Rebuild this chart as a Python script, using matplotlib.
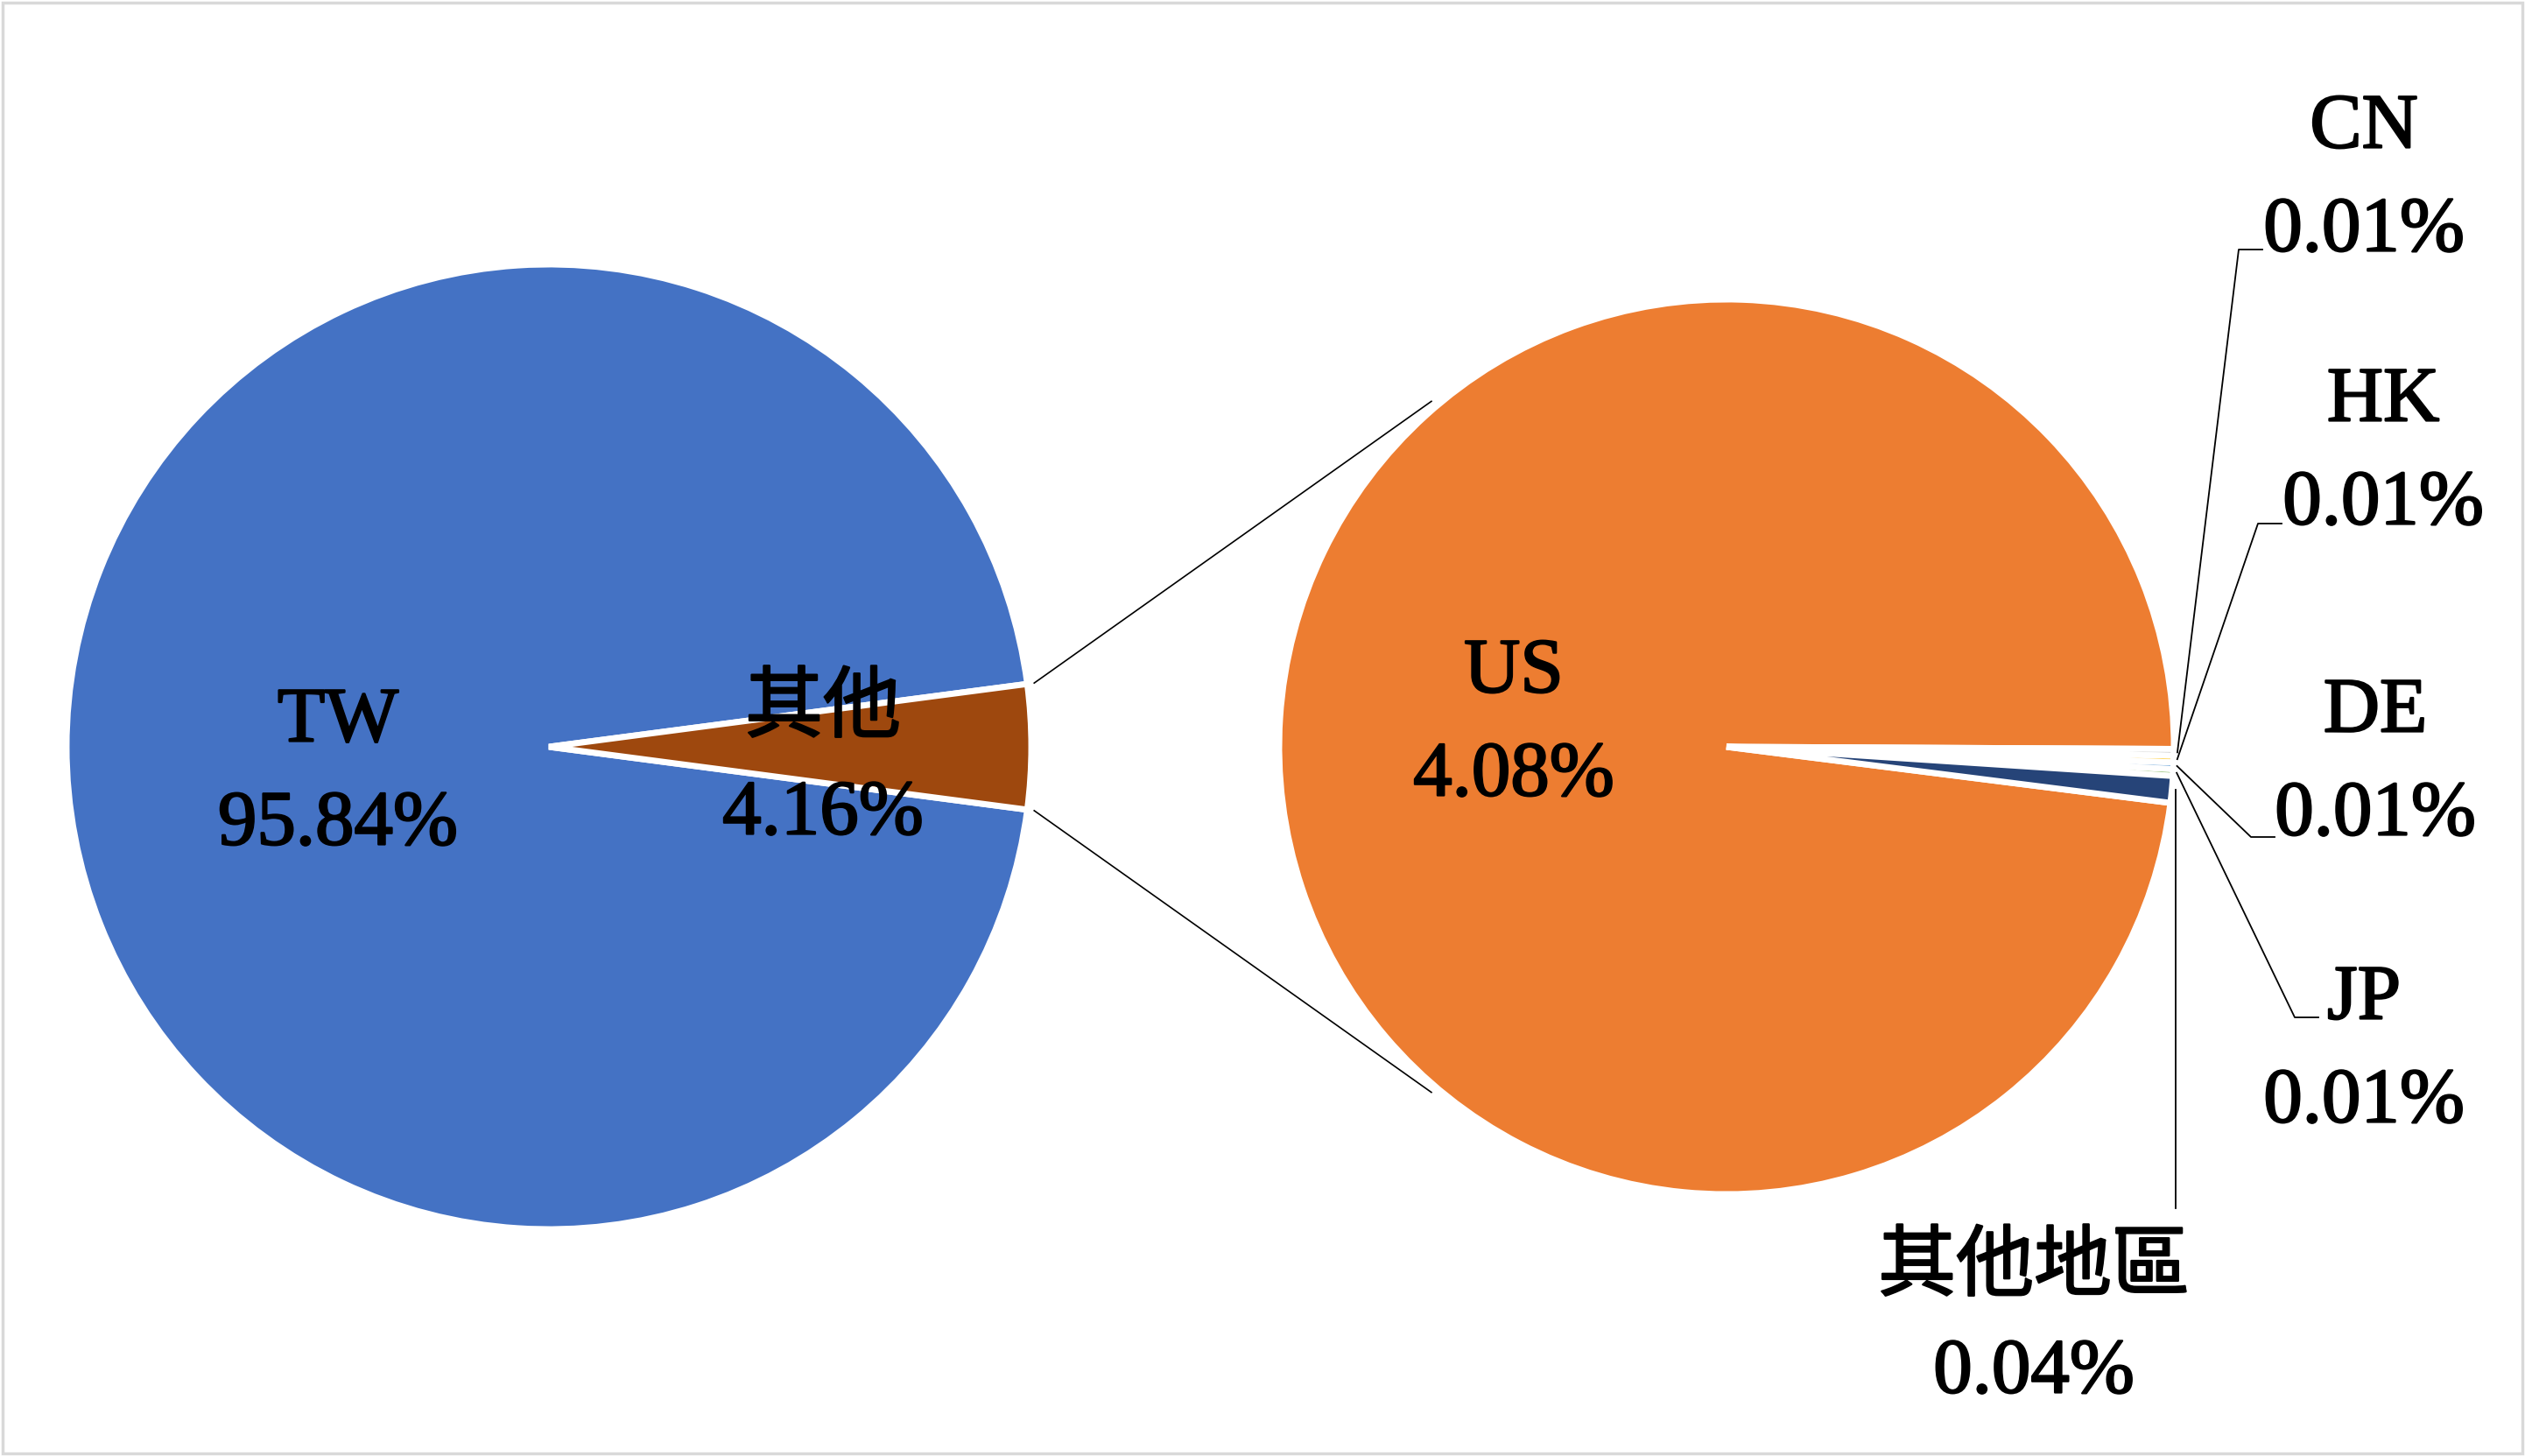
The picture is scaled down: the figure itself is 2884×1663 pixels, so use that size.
import numpy as np
import matplotlib.pyplot as plt
import matplotlib.patheffects as pe
from matplotlib.patches import Rectangle

# Data =======================
main_labels = ['TW', '其他']
main_values = [95.84, 4.16]
main_pct = ['95.84%', '4.16%']

sub_labels = ['US', 'CN', 'HK', 'DE', 'JP', '其他地區']
sub_values = [4.08, 0.01, 0.01, 0.01, 0.01, 0.04]
sub_pct = ['4.08%', '0.01%', '0.01%', '0.01%', '0.01%', '0.04%']

main_colors = ['#4472C4', '#9E480E']
sub_colors = ['#ED7D31', '#A5A5A5', '#FFC000', '#5B9BD5', '#70AD47', '#264478']

# Layout (pixels, y measured from top) =======================
W, H = 2884, 1663
left_c, left_r = (627, 853), 551
right_c, right_r = (1972, 853), 511
FAM = ['Liberation Serif', 'Noto Sans CJK TC']
FS = 64

fig = plt.figure(figsize=(W / 100, H / 100), dpi=100)
ax = fig.add_axes([0, 0, 1, 1])


def P(x, y):
    # pixel (from top) -> data coords
    return x, H - y


wp = dict(edgecolor='white', linewidth=5)

# left pie, "other" slice centered on 0 deg
half = 360 * main_values[1] / sum(main_values) / 2
lw, _ = ax.pie(main_values, colors=main_colors, startangle=half,
               center=P(*left_c), radius=left_r, wedgeprops=wp, frame=True)

# right pie, clockwise
rw, _ = ax.pie(sub_values, colors=sub_colors, startangle=-7.2, counterclock=False,
               center=P(*right_c), radius=right_r, wedgeprops=wp, frame=True)
ax.set_xlim(0, W)
ax.set_ylim(0, H)
ax.set_aspect('equal')
ax.axis('off')


def on_circle(c, r, ang):
    cx, cy = P(*c)
    a = np.deg2rad(ang)
    return cx + r * np.cos(a), cy + r * np.sin(a)


# connector lines between the two pies
for sgn in (1, -1):
    x0, y0 = on_circle(left_c, left_r + 8, sgn * half)
    x1, y1 = on_circle(right_c, right_r + 8, sgn * 130.5)
    ax.plot([x0, x1], [y0, y1], color='black', lw=1.2)

# labels
label_pos = {
    'TW': (386, 884), '其他': (940, 872), 'US': (1729, 828),
    'CN': (2700, 206), 'HK': (2722, 518), 'DE': (2713, 873),
    'JP': (2700, 1201), '其他地區': (2323, 1510),
}
semi = [pe.withStroke(linewidth=1.6, foreground='black')]
names = main_labels + sub_labels
pcts = main_pct + sub_pct
for name, pct in zip(names, pcts):
    x, y = label_pos[name]
    ax.text(*P(x, y - 59), name, ha='center', va='center', fontsize=FS,
            family=FAM, path_effects=semi)
    ax.text(*P(x, y + 59), pct, ha='center', va='center', fontsize=FS,
            family=FAM, path_effects=semi)

# leader lines for the small slices
elbows = {'CN': (2557, 285), 'HK': (2579, 598), 'DE': (2571, 956), 'JP': (2621, 1162)}
for wdg, name in zip(rw, sub_labels):
    mid = (wdg.theta1 + wdg.theta2) / 2
    sx, sy = on_circle(right_c, right_r + 4, mid)
    if name in elbows:
        ex, ey = P(*elbows[name])
        ax.plot([sx, ex, ex + 27], [sy, ey, ey], color='black', lw=1.3)
    elif name == '其他地區':
        ax.plot([sx, sx], [sy, H - 1380], color='black', lw=1.3)

# chart border
fig.patches.append(Rectangle((0.001, 0.002), 0.998, 0.996, transform=fig.transFigure,
                             fill=False, edgecolor='#D9D9D9', linewidth=2.5))

fig.savefig('out.png', dpi=100, facecolor='white')
